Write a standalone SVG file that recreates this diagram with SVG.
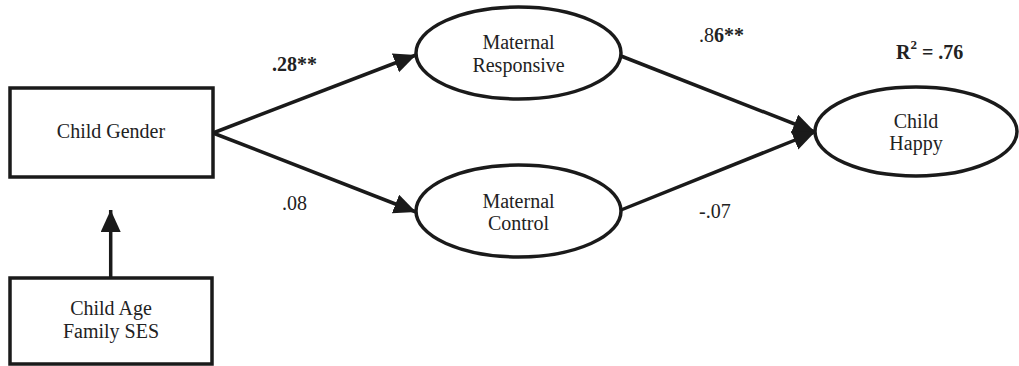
<svg xmlns="http://www.w3.org/2000/svg" width="1019" height="366" viewBox="0 0 1019 366">
<defs>
<marker id="ah" markerUnits="userSpaceOnUse" markerWidth="24" markerHeight="22" refX="22" refY="10" orient="auto" viewBox="0 0 24 22">
<path d="M0,0 L22,10 L0,20 z" fill="#1a1a1a"/>
</marker>
<style>
.box{fill:#fff;stroke:#1a1a1a;stroke-width:3.5}
.ell{fill:#fff;stroke:#1a1a1a;stroke-width:3.5}
.edge{stroke:#1a1a1a;stroke-width:3.5;fill:none;marker-end:url(#ah)}
text{font-family:"Liberation Serif","Times New Roman",serif;font-size:20px;fill:#222}
.c{text-anchor:middle}
.b{font-weight:bold}
</style>
</defs>
<g id="connectors">
<line class="edge" x1="213" y1="133" x2="416" y2="55"/>
<line class="edge" x1="213" y1="133" x2="416" y2="212"/>
<line class="edge" x1="621" y1="56" x2="815" y2="132"/>
<line class="edge" x1="621" y1="210" x2="815" y2="132"/>
<line class="edge" x1="110.7" y1="278" x2="110.7" y2="210"/>
</g>
<g id="child-gender">
<rect class="box" x="10" y="88" width="203" height="89"/>
<text class="c" x="111" y="138">Child Gender</text>
</g>
<g id="child-age-ses">
<rect class="box" x="10" y="278" width="202" height="86"/>
<text class="c" x="111" y="315">Child Age</text>
<text class="c" x="111" y="338">Family SES</text>
</g>
<g id="maternal-responsive">
<ellipse class="ell" cx="518.5" cy="53" rx="102.5" ry="46"/>
<text class="c" x="518.5" y="49">Maternal</text>
<text class="c" x="518.5" y="72">Responsive</text>
</g>
<g id="maternal-control">
<ellipse class="ell" cx="518.5" cy="211" rx="102.5" ry="46"/>
<text class="c" x="518.5" y="208">Maternal</text>
<text class="c" x="518.5" y="230">Control</text>
</g>
<g id="child-happy">
<ellipse class="ell" cx="916" cy="131.5" rx="101" ry="44.5"/>
<text class="c" x="916" y="128">Child</text>
<text class="c" x="916" y="150">Happy</text>
</g>
<g id="labels">
<text class="b" x="272" y="71">.28**</text>
<text x="282" y="210">.08</text>
<text x="699" y="42">.8<tspan class="b">6**</tspan></text>
<text x="699" y="218">-.07</text>
<text class="b" x="896" y="59">R<tspan font-size="13" dy="-10">2</tspan><tspan dy="10"> = .76</tspan></text>
</g>
</svg>
